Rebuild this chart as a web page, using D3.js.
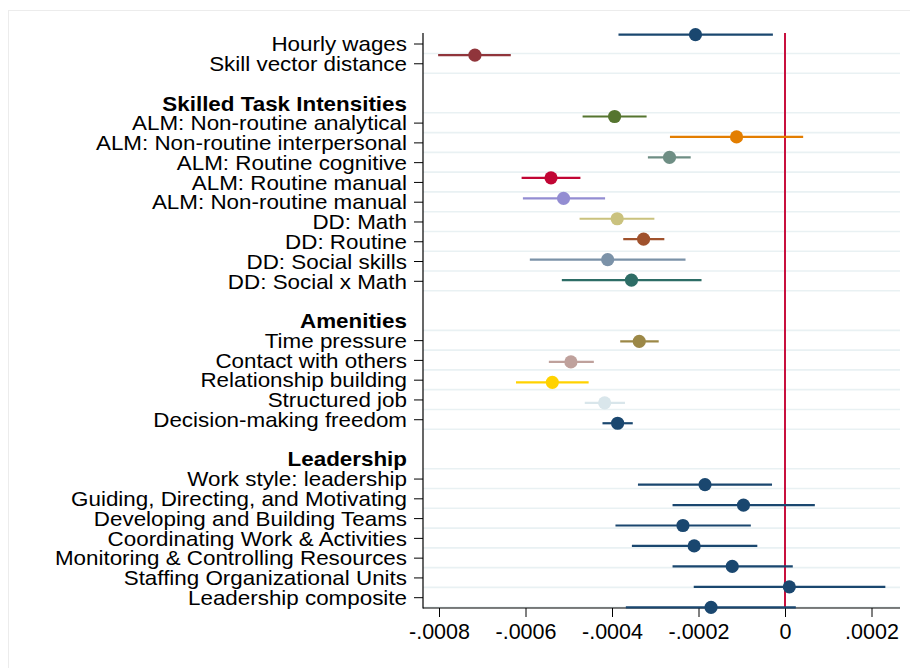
<!DOCTYPE html>
<html>
<head>
<meta charset="utf-8">
<script src="https://cdn.jsdelivr.net/npm/d3@7/dist/d3.min.js"></script>
<style>
  html, body { margin: 0; padding: 0; background: #fff; }
  svg { display: block; }
  text { font-family: "Liberation Sans", Arial, Helvetica, sans-serif; fill: #000; }
</style>
</head>
<body>
<svg id="chart" width="910" height="668"></svg>
<script>
// ---------- data ----------
const rowLabels = [
  "Hourly wages", "Skill vector distance", "",
  "Skilled Task Intensities",
  "ALM: Non-routine analytical", "ALM: Non-routine interpersonal", "ALM: Routine cognitive",
  "ALM: Routine manual", "ALM: Non-routine manual", "DD: Math", "DD: Routine",
  "DD: Social skills", "DD: Social x Math", "",
  "Amenities",
  "Time pressure", "Contact with others", "Relationship building", "Structured job",
  "Decision-making freedom", "",
  "Leadership",
  "Work style: leadership", "Guiding, Directing, and Motivating", "Developing and Building Teams",
  "Coordinating Work & Activities", "Monitoring & Controlling Resources",
  "Staffing Organizational Units", "Leadership composite"
];
const headerLabels = ["Skilled Task Intensities", "Amenities", "Leadership"];

const seriesNames = [
  "Hourly wages", "Skill vector distance",
  "ALM: Non-routine analytical", "ALM: Non-routine interpersonal", "ALM: Routine cognitive",
  "ALM: Routine manual", "ALM: Non-routine manual", "DD: Math", "DD: Routine",
  "DD: Social skills", "DD: Social x Math",
  "Time pressure", "Contact with others", "Relationship building", "Structured job",
  "Decision-making freedom",
  "Work style: leadership", "Guiding, Directing, and Motivating", "Developing and Building Teams",
  "Coordinating Work & Activities", "Monitoring & Controlling Resources",
  "Staffing Organizational Units", "Leadership composite"
];
const estimates = [
  -0.000207, -0.000717,
  -0.000394, -0.000112, -0.000267, -0.000541, -0.000512, -0.000388, -0.000327, -0.000410, -0.000355,
  -0.000337, -0.000495, -0.000538, -0.000417, -0.000387,
  -0.000185, -0.000096, -0.000236, -0.000210, -0.000122, 0.000010, -0.000171
];
const ciLow = [
  -0.000385, -0.000802,
  -0.000468, -0.000266, -0.000317, -0.000609, -0.000606, -0.000475, -0.000374, -0.000590, -0.000516,
  -0.000381, -0.000546, -0.000622, -0.000463, -0.000422,
  -0.000340, -0.000260, -0.000392, -0.000354, -0.000260, -0.000211, -0.000368
];
const ciHigh = [
  -0.000028, -0.000634,
  -0.000320, 0.000042, -0.000218, -0.000473, -0.000416, -0.000302, -0.000279, -0.000230, -0.000193,
  -0.000292, -0.000442, -0.000454, -0.000370, -0.000352,
  -0.000030, 0.000069, -0.000079, -0.000064, 0.000018, 0.000232, 0.000025
];
const seriesColors = [
  "#1a476f", "#90353b",
  "#55752f", "#e37e00", "#6e8e84", "#c10534", "#938dd2", "#cac27e", "#a0522d", "#7b92a8", "#2d6d66",
  "#9c8847", "#bfa19c", "#ffd200", "#d9e6eb", "#1a476f",
  "#1a476f", "#1a476f", "#1a476f", "#1a476f", "#1a476f", "#1a476f", "#1a476f"
];
const xTicks = [-0.0008, -0.0006, -0.0004, -0.0002, 0, 0.0002];
const refValue = 0;

// ---------- layout ----------
const svg = d3.select("#chart");
const plotLeft = 423, plotRight = 900, plotTop = 33, plotBottom = 608;

const x = d3.scaleLinear().domain([-0.0008, 0.0002]).range([439, 871.5]);
const rows = d3.range(rowLabels.length);
const yLabel = d3.scalePoint().domain(rows).range([44, 597.7]);
const yMark = d3.scalePoint().domain(rows).range([34.7, 607.3]);

// outer faint frame
svg.append("rect").attr("x", 8.5).attr("y", 10.5).attr("width", 920).attr("height", 680)
  .attr("fill", "#fff").attr("stroke", "#ececec").attr("stroke-width", 1);

// gridlines
svg.append("g").selectAll("line")
  .data(rows.filter(i => rowLabels[i] !== ""))
  .join("line")
  .attr("x1", plotLeft).attr("x2", plotRight)
  .attr("y1", i => yLabel(i) + yLabel.step() * 0.48)
  .attr("y2", i => yLabel(i) + yLabel.step() * 0.48)
  .attr("stroke", "#e9f1f3").attr("stroke-width", 1.6);

// reference line
svg.append("line")
  .attr("x1", x(refValue)).attr("x2", x(refValue))
  .attr("y1", plotTop).attr("y2", plotBottom)
  .attr("stroke", "#c8103e").attr("stroke-width", 2);

// y axis
svg.append("line").attr("x1", plotLeft).attr("x2", plotLeft)
  .attr("y1", plotTop).attr("y2", plotBottom + 0.5)
  .attr("stroke", "#000").attr("stroke-width", 1.2);

const yTickRows = rows.filter(i => rowLabels[i] !== "" && !headerLabels.includes(rowLabels[i]));
svg.append("g").selectAll("line")
  .data(yTickRows)
  .join("line")
  .attr("x1", plotLeft - 9).attr("x2", plotLeft)
  .attr("y1", i => yLabel(i)).attr("y2", i => yLabel(i))
  .attr("stroke", "#000").attr("stroke-width", 1);

svg.append("g").selectAll("text")
  .data(rows.filter(i => rowLabels[i] !== ""))
  .join("text")
  .attr("transform", i => `translate(407,${yLabel(i) + 7.2}) scale(1.12,1)`)
  .attr("text-anchor", "end")
  .attr("font-size", 20)
  .attr("font-weight", i => headerLabels.includes(rowLabels[i]) ? "bold" : "normal")
  .text(i => rowLabels[i]);

// x axis
const fmt = d => d === 0 ? "0" : (d < 0 ? "-" : "") + Math.abs(d).toFixed(4).replace(/^0/, "");
const xAxis = svg.append("g").attr("transform", `translate(0,${plotBottom})`)
  .call(d3.axisBottom(x).tickValues(xTicks).tickFormat(fmt).tickSize(9).tickSizeOuter(0));
xAxis.select(".domain").remove();
xAxis.selectAll(".tick line").attr("stroke", "#000").attr("stroke-width", 1);
xAxis.selectAll(".tick text")
  .attr("y", 30.5).attr("dy", null)
  .attr("font-size", 21.5)
  .attr("font-family", "'Liberation Sans', Arial, Helvetica, sans-serif")
  .attr("fill", "#000");
svg.append("line").attr("x1", plotLeft).attr("x2", plotRight)
  .attr("y1", plotBottom).attr("y2", plotBottom)
  .attr("stroke", "#000").attr("stroke-width", 1.2);

// estimates
const data = seriesNames.map((n, k) => ({
  row: rowLabels.indexOf(n), est: estimates[k], lo: ciLow[k], hi: ciHigh[k], color: seriesColors[k]
}));
const marks = svg.append("g");
marks.selectAll("line")
  .data(data)
  .join("line")
  .attr("x1", d => x(d.lo)).attr("x2", d => x(d.hi))
  .attr("y1", d => yMark(d.row)).attr("y2", d => yMark(d.row))
  .attr("stroke", d => d.color).attr("stroke-width", 2.2);
marks.selectAll("circle")
  .data(data)
  .join("circle")
  .attr("cx", d => x(d.est)).attr("cy", d => yMark(d.row))
  .attr("r", 6.6)
  .attr("fill", d => d.color);
</script>
</body>
</html>
